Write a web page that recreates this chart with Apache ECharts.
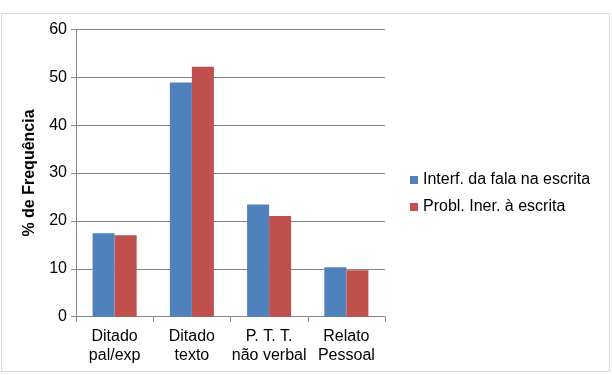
<!DOCTYPE html>
<html>
<head>
<meta charset="utf-8">
<script src="https://cdn.jsdelivr.net/npm/echarts@6/dist/echarts.min.js"></script>
<style>
html,body{margin:0;padding:0;background:#fff;}
#chart{width:612px;height:375px;}
</style>
</head>
<body>
<div id="chart"></div>
<script>
var categories = ['Ditado\npal/exp', 'Ditado\ntexto', 'P. T. T.\nnão verbal', 'Relato\nPessoal'];
var seriesNames = ['Interf. da fala na escrita', 'Probl. Iner. à escrita'];
var interfValues = [17.4, 48.9, 23.4, 10.3];
var problValues = [17.0, 52.2, 21.0, 9.7];
var yTicks = [0, 10, 20, 30, 40, 50, 60];

var chart = echarts.init(document.getElementById('chart'), null, {renderer: 'canvas'});
var font = 'Liberation Sans, Arial, sans-serif';
chart.setOption({
  animation: false,
  backgroundColor: '#fff',
  textStyle: {fontFamily: font},
  graphic: [{
    type: 'rect',
    shape: {x: 1.5, y: 13.5, width: 608, height: 358},
    style: {fill: 'none', stroke: '#d9d9d9', lineWidth: 1},
    silent: true
  }],
  grid: {left: 76, top: 29.3, right: 227, bottom: 58.3, containLabel: false},
  legend: {
    orient: 'vertical',
    left: 405,
    top: 167,
    padding: 5,
    itemWidth: 8,
    itemHeight: 8,
    itemGap: 11,
    icon: 'rect',
    textStyle: {fontFamily: font, fontSize: 16, color: '#000'},
    data: seriesNames
  },
  xAxis: {
    type: 'category',
    data: categories,
    axisLine: {lineStyle: {color: '#868686', width: 1}},
    axisTick: {show: true, length: 5, lineStyle: {color: '#868686'}},
    axisLabel: {fontFamily: font, fontSize: 16, color: '#000', lineHeight: 19, margin: 10, interval: 0}
  },
  yAxis: {
    type: 'value',
    min: yTicks[0],
    max: yTicks[yTicks.length - 1],
    interval: 10,
    name: '% de Frequência',
    nameLocation: 'middle',
    nameGap: 38,
    nameTextStyle: {fontFamily: font, fontSize: 16, fontWeight: 'bold', color: '#000'},
    axisLine: {show: true, lineStyle: {color: '#868686'}},
    axisTick: {show: true, length: 5, lineStyle: {color: '#868686'}},
    axisLabel: {fontFamily: font, fontSize: 16, color: '#000', margin: 9},
    splitLine: {lineStyle: {color: '#868686', width: 1}}
  },
  series: [
    {name: seriesNames[0], type: 'bar', data: interfValues, barGap: '0%', barCategoryGap: '43%',
     itemStyle: {color: '#4F81BD'}},
    {name: seriesNames[1], type: 'bar', data: problValues, barGap: '0%', barCategoryGap: '43%',
     itemStyle: {color: '#C0504D'}}
  ]
});
</script>
</body>
</html>
